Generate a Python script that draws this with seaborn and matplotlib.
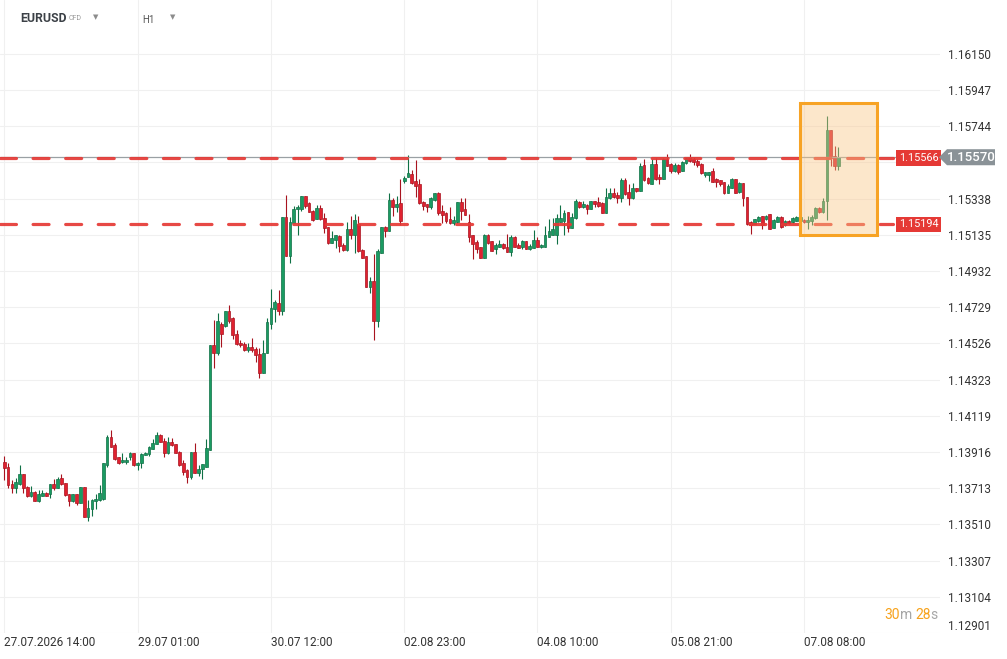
import matplotlib
matplotlib.use("Agg")
import matplotlib.pyplot as plt
import matplotlib.transforms as mtransforms
from matplotlib.patches import Rectangle, Polygon
import numpy as np
import seaborn as sns

# ---------------- data (EURUSD, H1) ----------------
opens = [
 1.13860,1.13831,1.13736,1.13712,1.13736,1.13792,1.13719,1.13671,1.13691,1.13641,
 1.13669,1.13686,1.13678,1.13736,1.13717,1.13770,1.13742,1.13680,1.13644,1.13680,
 1.13633,1.13719,1.13549,1.13596,1.13639,1.13646,1.13650,1.13846,1.14000,1.13957,
 1.13888,1.13860,1.13858,1.13886,1.13908,1.13843,1.13852,1.13901,1.13903,1.13932,
 1.13960,1.14009,1.13979,1.13908,1.13974,1.13962,1.13917,1.13856,1.13817,1.13775,
 1.13916,1.13798,1.13820,1.13835,
 1.13928,1.14517,1.14469,1.14635,1.14624,1.14706,1.14669,1.14577,1.14529,1.14521,
 1.14486,1.14504,1.14495,1.14467,1.14362,1.14471,1.14633,1.14717,1.14751,1.14710,
 1.15234,1.15018,1.15200,1.15277,1.15278,1.15353,1.15312,1.15271,1.15224,1.15284,
 1.15228,1.15177,1.15091,1.15106,1.15129,1.15078,1.15050,1.15166,1.15131,1.15196,
 1.15050,1.15015,1.14841,1.14875,1.14654,
 1.15035,1.15177,1.15158,1.15330,1.15293,1.15312,1.15439,1.15461,1.15476,1.15435,
 1.15420,1.15317,1.15306,1.15289,1.15330,1.15368,1.15269,1.15259,1.15224,1.15203,
 1.15209,1.15317,1.15280,1.15209,1.15134,1.15093,1.15065,1.15007,1.15134,1.15100,
 1.15054,1.15069,1.15084,1.15065,1.15041,1.15121,1.15078,1.15069,1.15100,1.15056,
 1.15063,1.15106,1.15065,1.15069,1.15125,1.15134,1.15134,1.15209,1.15215,1.15261,
 1.15175,1.15228,1.15321,1.15293,1.15302,1.15280,1.15325,1.15317,1.15312,1.15259,
 1.15340,1.15368,1.15358,1.15344,1.15443,1.15373,1.15344,1.15396,1.15383,1.15527,
 1.15452,1.15418,1.15532,1.15459,1.15446,1.15560,1.15532,1.15495,1.15527,1.15495,
 1.15536,1.15564,1.15559,1.15549,1.15531,1.15471,1.15471,1.15493,1.15448,1.15441,
 1.15430,1.15372,1.15400,1.15448,1.15377,1.15424,1.15345,1.15205,1.15194,1.15213,
 1.15241,1.15223,1.15251,1.15172,1.15204,1.15234,1.15191,1.15213,1.15204,1.15215,
 1.15215,1.15219,1.15204,1.15215,1.15228,1.15284,1.15260,1.15322,1.15724,1.15578,
 1.15518]
highs = [
 1.13895,1.13854,1.13759,1.13770,1.13843,1.13792,1.13727,1.13727,1.13699,1.13702,
 1.13701,1.13693,1.13736,1.13764,1.13775,1.13794,1.13745,1.13680,1.13682,1.13680,
 1.13719,1.13719,1.13648,1.13652,1.13682,1.13732,1.13854,1.14013,1.14041,1.13966,
 1.13888,1.13910,1.13886,1.13919,1.13910,1.13858,1.13910,1.13917,1.13951,1.13992,
 1.14030,1.14017,1.13994,1.13998,1.13994,1.13962,1.13923,1.13874,1.13820,1.13916,
 1.13966,1.13845,1.13848,1.13989,
 1.14517,1.14658,1.14695,1.14643,1.14706,1.14742,1.14674,1.14600,1.14544,1.14532,
 1.14527,1.14555,1.14504,1.14499,1.14545,1.14667,1.14832,1.14770,1.14826,1.15234,
 1.15359,1.15237,1.15297,1.15303,1.15353,1.15353,1.15320,1.15275,1.15303,1.15303,
 1.15256,1.15177,1.15157,1.15133,1.15134,1.15088,1.15209,1.15241,1.15250,1.15241,
 1.15056,1.15015,1.14897,1.15028,1.15056,
 1.15177,1.15185,1.15372,1.15344,1.15353,1.15446,1.15465,1.15583,1.15499,1.15555,
 1.15446,1.15327,1.15306,1.15345,1.15372,1.15377,1.15302,1.15265,1.15289,1.15241,
 1.15321,1.15340,1.15340,1.15250,1.15134,1.15106,1.15065,1.15140,1.15140,1.15102,
 1.15087,1.15106,1.15087,1.15140,1.15134,1.15129,1.15091,1.15106,1.15100,1.15084,
 1.15162,1.15121,1.15084,1.15185,1.15222,1.15228,1.15252,1.15302,1.15274,1.15261,
 1.15256,1.15334,1.15325,1.15325,1.15306,1.15325,1.15325,1.15349,1.15317,1.15400,
 1.15400,1.15396,1.15377,1.15452,1.15456,1.15418,1.15424,1.15396,1.15536,1.15560,
 1.15461,1.15560,1.15564,1.15474,1.15568,1.15587,1.15536,1.15536,1.15531,1.15549,
 1.15574,1.15589,1.15570,1.15559,1.15536,1.15489,1.15489,1.15508,1.15452,1.15441,
 1.15433,1.15418,1.15456,1.15448,1.15430,1.15424,1.15345,1.15213,1.15224,1.15241,
 1.15241,1.15247,1.15251,1.15223,1.15238,1.15238,1.15219,1.15219,1.15232,1.15238,
 1.15238,1.15223,1.15238,1.15247,1.15290,1.15288,1.15340,1.15802,1.15724,1.15634,
 1.15627]
lows = [
 1.13757,1.13714,1.13684,1.13684,1.13729,1.13686,1.13665,1.13663,1.13639,1.13637,
 1.13667,1.13671,1.13661,1.13701,1.13714,1.13732,1.13671,1.13611,1.13635,1.13620,
 1.13630,1.13549,1.13527,1.13560,1.13598,1.13644,1.13648,1.13830,1.13944,1.13873,
 1.13850,1.13854,1.13848,1.13873,1.13839,1.13813,1.13824,1.13897,1.13895,1.13931,
 1.13959,1.13970,1.13889,1.13906,1.13949,1.13908,1.13839,1.13787,1.13742,1.13764,
 1.13798,1.13783,1.13764,1.13835,
 1.13925,1.14390,1.14461,1.14508,1.14620,1.14639,1.14553,1.14519,1.14508,1.14482,
 1.14480,1.14480,1.14424,1.14334,1.14362,1.14471,1.14607,1.14643,1.14686,1.14686,
 1.15018,1.14979,1.15200,1.15131,1.15269,1.15284,1.15262,1.15215,1.15222,1.15219,
 1.15144,1.15084,1.15088,1.15058,1.15037,1.15043,1.15045,1.15110,1.15035,1.15041,
 1.15004,1.14841,1.14807,1.14542,1.14620,
 1.15035,1.15121,1.15158,1.15243,1.15265,1.15190,1.15424,1.15461,1.15417,1.15349,
 1.15308,1.15274,1.15263,1.15282,1.15327,1.15244,1.15203,1.15203,1.15196,1.15190,
 1.15203,1.15218,1.15244,1.15097,1.14998,1.15031,1.15007,1.15007,1.15084,1.15044,
 1.15026,1.15065,1.15056,1.15037,1.15016,1.15065,1.15059,1.15054,1.15054,1.15050,
 1.15059,1.15065,1.15059,1.15069,1.15121,1.15134,1.15084,1.15209,1.15134,1.15153,
 1.15172,1.15224,1.15287,1.15287,1.15250,1.15278,1.15293,1.15291,1.15259,1.15259,
 1.15336,1.15340,1.15312,1.15321,1.15358,1.15302,1.15334,1.15377,1.15383,1.15437,
 1.15418,1.15418,1.15444,1.15422,1.15446,1.15523,1.15480,1.15489,1.15474,1.15495,
 1.15534,1.15545,1.15527,1.15517,1.15474,1.15461,1.15439,1.15430,1.15405,1.15411,
 1.15362,1.15368,1.15396,1.15368,1.15368,1.15299,1.15190,1.15138,1.15194,1.15209,
 1.15167,1.15219,1.15168,1.15172,1.15204,1.15172,1.15185,1.15196,1.15200,1.15210,
 1.15210,1.15200,1.15168,1.15191,1.15225,1.15256,1.15256,1.15219,1.15518,1.15499,
 1.15496]
closes = [
 1.13826,1.13729,1.13712,1.13749,1.13792,1.13714,1.13671,1.13691,1.13641,1.13682,
 1.13686,1.13672,1.13736,1.13717,1.13764,1.13736,1.13674,1.13644,1.13680,1.13633,
 1.13719,1.13549,1.13603,1.13646,1.13654,1.13686,1.13854,1.14000,1.13947,1.13878,
 1.13852,1.13873,1.13871,1.13910,1.13843,1.13854,1.13906,1.13912,1.13944,1.13966,
 1.14009,1.13972,1.13908,1.13974,1.13953,1.13908,1.13843,1.13805,1.13775,1.13916,
 1.13798,1.13820,1.13848,1.13940,
 1.14517,1.14471,1.14652,1.14581,1.14706,1.14654,1.14572,1.14521,1.14514,1.14486,
 1.14504,1.14486,1.14458,1.14362,1.14474,1.14645,1.14723,1.14757,1.14710,1.15234,
 1.15018,1.15206,1.15278,1.15290,1.15353,1.15299,1.15265,1.15219,1.15284,1.15222,
 1.15172,1.15088,1.15116,1.15133,1.15073,1.15050,1.15166,1.15131,1.15219,1.15045,
 1.15007,1.14841,1.14875,1.14654,1.15045,
 1.15177,1.15158,1.15330,1.15293,1.15308,1.15215,1.15454,1.15480,1.15424,1.15411,
 1.15312,1.15297,1.15289,1.15340,1.15368,1.15259,1.15246,1.15213,1.15203,1.15218,
 1.15317,1.15271,1.15248,1.15125,1.15082,1.15056,1.15007,1.15134,1.15091,1.15046,
 1.15078,1.15084,1.15059,1.15041,1.15121,1.15069,1.15063,1.15100,1.15056,1.15072,
 1.15106,1.15069,1.15078,1.15134,1.15158,1.15166,1.15228,1.15228,1.15259,1.15175,
 1.15237,1.15325,1.15293,1.15306,1.15280,1.15325,1.15306,1.15295,1.15259,1.15349,
 1.15368,1.15347,1.15344,1.15443,1.15362,1.15344,1.15396,1.15383,1.15523,1.15443,
 1.15424,1.15532,1.15448,1.15446,1.15559,1.15523,1.15493,1.15527,1.15489,1.15542,
 1.15568,1.15549,1.15542,1.15527,1.15480,1.15486,1.15489,1.15433,1.15430,1.15418,
 1.15372,1.15411,1.15448,1.15372,1.15424,1.15340,1.15196,1.15190,1.15224,1.15237,
 1.15191,1.15243,1.15168,1.15219,1.15234,1.15178,1.15210,1.15200,1.15228,1.15232,
 1.15234,1.15204,1.15219,1.15234,1.15284,1.15260,1.15322,1.15724,1.15565,1.15518,
 1.15570]

time_labels = ["27.07.2026 14:00", "29.07 01:00", "30.07 12:00", "02.08 23:00",
               "04.08 10:00", "05.08 21:00", "07.08 08:00"]
label_positions = [0, 35, 70, 105, 140, 175, 210]
price_ticks = [1.16150, 1.15947, 1.15744, 1.15541, 1.15338, 1.15135, 1.14932,
               1.14729, 1.14526, 1.14323, 1.14119, 1.13916, 1.13713, 1.13510,
               1.13307, 1.13104, 1.12901]
resistance = 1.15566
support = 1.15194
last_price = 1.15570
symbol = "EURUSD"
timeframe = "H1"

# ---------------- style ----------------
sns.set_theme(style="white")
plt.rcParams['font.family'] = ['Roboto', 'DejaVu Sans']

W, H = 1007, 659
fig = plt.figure(figsize=(W / 100, H / 100), dpi=100)
fig.patch.set_facecolor("white")
ax = fig.add_axes([0, (H - 633) / H, 940 / W, 633 / H])
ax.set_facecolor("white")
for s in ax.spines.values():
    s.set_visible(False)

n = len(closes)
idx = np.arange(n)
o = np.array(opens); c = np.array(closes)
hi = np.array(highs); lo = np.array(lows)
up = c >= o

G_FILL, G_EDGE = "#1a9b62", "#0f7045"
R_FILL, R_EDGE = "#e0212f", "#a8131f"

ax.set_xlim(-1.13, 245.7)
ax.set_ylim(1.12901, 1.16452)

# grid
for t in price_ticks:
    ax.axhline(t, color="#f0f0f0", lw=0.8, zorder=0)
for p in label_positions:
    ax.axvline(p, color="#f0f0f0", lw=0.8, zorder=0)

# wicks
ax.vlines(idx[up], lo[up], hi[up], color=G_EDGE, lw=0.8, zorder=2)
ax.vlines(idx[~up], lo[~up], hi[~up], color=R_EDGE, lw=0.8, zorder=2)
# bodies
body_h = np.maximum(np.abs(c - o), 0.00003)
body_b = np.minimum(o, c)
ax.bar(idx[up], body_h[up], bottom=body_b[up], width=0.72,
       color=G_FILL, edgecolor=G_EDGE, linewidth=0.5, zorder=3)
ax.bar(idx[~up], body_h[~up], bottom=body_b[~up], width=0.72,
       color=R_FILL, edgecolor=R_EDGE, linewidth=0.5, zorder=3)

# current price line
ax.axhline(last_price, color="#9aa0a4", lw=0.9, zorder=4)

# dashed support / resistance
for lvl in (resistance, support):
    ax.plot([-1.13, 233.4], [lvl, lvl], color="#e53935", lw=2.3,
            dashes=(5.0, 5.2), dash_capstyle="round", alpha=0.92, zorder=5)

# highlight box
ax.add_patch(Rectangle((208.96, 1.15134), 229.18 - 208.96, 1.15874 - 1.15134,
                       facecolor=(0.98, 0.78, 0.52, 0.42), edgecolor="#f7a325",
                       linewidth=2.2, zorder=6))

# y ticks on right (the 1.15541 label sits under the current-price tag)
ax.yaxis.tick_right()
ax.set_yticks(price_ticks)
ax.set_yticklabels(["" if abs(t - last_price) < 0.0005 else f"{t:.5f}"
                    for t in price_ticks])
ax.tick_params(axis="y", length=0, pad=5.5, labelsize=8.5, labelcolor="#333333")
ylabels = ax.get_yticklabels()
ylabels[-1].set_va("bottom")

# x ticks
ax.set_xticks(label_positions)
ax.set_xticklabels(time_labels)
ax.tick_params(axis="x", length=0, pad=2.5, labelsize=8.5, labelcolor="#333333")
for lab in ax.get_xticklabels():
    lab.set_ha("left")

trans = mtransforms.blended_transform_factory(ax.transAxes, ax.transData)

# red level tags
for lvl in (resistance, support):
    ax.text(0.9985, lvl, f"{lvl:.5f}", transform=trans, ha="right", va="center",
            color="white", fontsize=7.8, zorder=11, clip_on=False,
            bbox=dict(boxstyle="square,pad=0.25", fc="#e53935", ec="none"))

# grey current price tag
half = 0.00045
ax.add_patch(Polygon([(-1 / 940 + 1.0, last_price), (1.0 + 7 / 940, last_price + half),
                      (1.0 + 55 / 940, last_price + half),
                      (1.0 + 55 / 940, last_price - half),
                      (1.0 + 7 / 940, last_price - half)], closed=True,
                     transform=trans, facecolor="#8a9297", edgecolor="none",
                     clip_on=False, zorder=12))
ax.text(1.0 + 31 / 940, last_price, f"{last_price:.5f}", transform=trans,
        ha="center", va="center", color="white", fontsize=9.5, fontweight=500,
        zorder=13, clip_on=False)

# header
fig.text(20 / W, 1 - 19 / H, symbol, fontsize=8.8, fontweight="bold",
         color="#3c4147", va="center", ha="left")
fig.text(69 / W, 1 - 19 / H, "CFD", fontsize=5, color="#9a9a9a",
         va="center", ha="left")
fig.text(96 / W, 1 - 17 / H, "▼", fontsize=5, color="#8c8c8c",
         va="center", ha="center", family="DejaVu Sans")
fig.text(142 / W, 1 - 20 / H, timeframe, fontsize=7, color="#555555",
         va="center", ha="left")
fig.text(173 / W, 1 - 17 / H, "▼", fontsize=5, color="#8c8c8c",
         va="center", ha="center", family="DejaVu Sans")

# countdown
ORANGE, GREY = "#f7a21b", "#a6a6a6"
t1 = fig.text(884 / W, 1 - 619 / H, "30", fontsize=10, color=ORANGE,
              va="baseline", ha="left")
parts = [("m ", GREY), ("28", ORANGE), ("s", GREY)]
prev = t1
for txt, col in parts:
    prev = ax.annotate(txt, xy=(1, 0), xycoords=prev, va="bottom", ha="left",
                       fontsize=10, color=col, annotation_clip=False)

fig.savefig("out.png", dpi=100, facecolor="white")
